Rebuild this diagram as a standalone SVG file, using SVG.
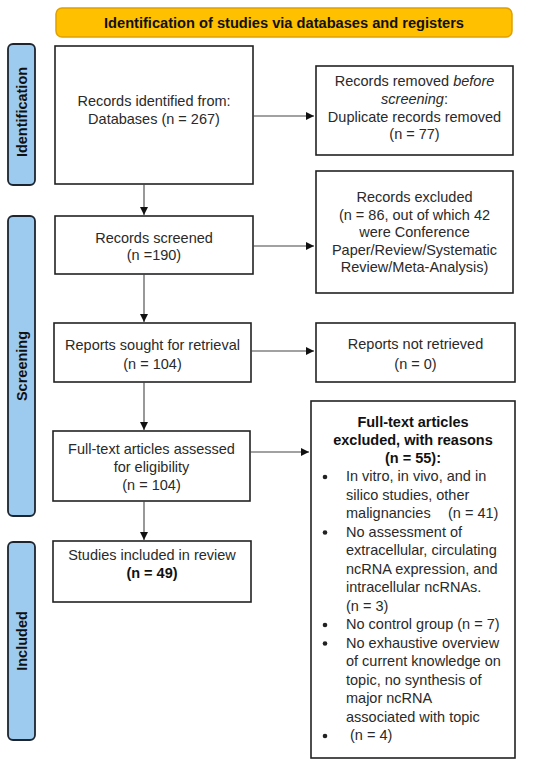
<svg xmlns="http://www.w3.org/2000/svg" width="550" height="765" viewBox="0 0 550 765">
<defs>
<marker id="ah" viewBox="0 0 10 10" refX="10" refY="5" markerWidth="8" markerHeight="8" markerUnits="userSpaceOnUse" orient="auto">
<path d="M0,0 L10,5 L0,10 z" fill="#111"/>
</marker>
<style>
.box{fill:#fff;stroke:#222;stroke-width:1.6}
.side{fill:#9DCBF0;stroke:#1c2530;stroke-width:1.8}
.t{font-family:"Liberation Sans",Arial,sans-serif;font-size:14.5px;fill:#2a2a2a;text-anchor:middle}
.tl{font-family:"Liberation Sans",Arial,sans-serif;font-size:14.5px;fill:#2a2a2a}
.b{font-weight:bold;fill:#111}
.st{font-family:"Liberation Sans",Arial,sans-serif;font-size:14.5px;font-weight:bold;fill:#111;text-anchor:middle}
.c{stroke:#444;stroke-width:1.1;fill:none;marker-end:url(#ah)}
.dot{fill:#222}
</style>
</defs>
<g id="banner">
<rect x="56" y="8" width="456" height="29" rx="6" fill="#FFC000" stroke="#E0A000" stroke-width="1.5"/>
<text class="st" x="284" y="27.5" textLength="360" lengthAdjust="spacingAndGlyphs">Identification of studies via databases and registers</text>
</g>
<g id="side-identification">
<rect class="side" x="8" y="44" width="27" height="141" rx="5"/>
<text class="st" transform="translate(26.5,112) rotate(-90)">Identification</text>
</g>
<g id="side-screening">
<rect class="side" x="8" y="216" width="27" height="300" rx="5"/>
<text class="st" transform="translate(26.5,366) rotate(-90)">Screening</text>
</g>
<g id="side-included">
<rect class="side" x="8" y="542" width="27" height="198" rx="5"/>
<text class="st" transform="translate(26.5,641) rotate(-90)">Included</text>
</g>
<g id="n-identified">
<rect class="box" x="55" y="46" width="198" height="138"/>
<text class="t" x="154" y="106">Records identified from:</text>
<text class="t" x="154" y="124">Databases (n = 267)</text>
</g>
<g id="n-removed">
<rect class="box" x="316" y="66" width="197" height="89"/>
<text class="t" x="414.5" y="86">Records removed <tspan font-style="italic">before</tspan></text>
<text class="t" x="414.5" y="104"><tspan font-style="italic">screening</tspan>:</text>
<text class="t" x="414.5" y="121.5">Duplicate records removed</text>
<text class="t" x="414.5" y="139">(n = 77)</text>
</g>
<g id="n-screened">
<rect class="box" x="55" y="216" width="198" height="58"/>
<text class="t" x="154" y="243">Records screened</text>
<text class="t" x="154" y="260">(n =190)</text>
</g>
<g id="n-excluded">
<rect class="box" x="316" y="171" width="197" height="122"/>
<text class="t" x="414.5" y="202">Records excluded</text>
<text class="t" x="414.5" y="219.5">(n = 86, out of which 42</text>
<text class="t" x="414.5" y="237">were Conference</text>
<text class="t" x="414.5" y="254.5">Paper/Review/Systematic</text>
<text class="t" x="414.5" y="272">Review/Meta-Analysis)</text>
</g>
<g id="n-sought">
<rect class="box" x="54" y="323" width="197" height="59"/>
<text class="t" x="152.5" y="350">Reports sought for retrieval</text>
<text class="t" x="152.5" y="369">(n = 104)</text>
</g>
<g id="n-notretrieved">
<rect class="box" x="316" y="323" width="199" height="59"/>
<text class="t" x="415.5" y="349">Reports not retrieved</text>
<text class="t" x="415.5" y="369">(n = 0)</text>
</g>
<g id="n-assessed">
<rect class="box" x="53" y="431" width="197" height="70"/>
<text class="t" x="151.5" y="454">Full-text articles assessed</text>
<text class="t" x="151.5" y="472">for eligibility</text>
<text class="t" x="151.5" y="489.5">(n = 104)</text>
</g>
<g id="n-fulltext-excluded">
<rect class="box" x="311" y="401" width="204" height="357"/>
<text class="t b" x="413" y="427">Full-text articles</text>
<text class="t b" x="413" y="445">excluded, with reasons</text>
<text class="t b" x="413" y="462.5">(n = 55):</text>
<circle class="dot" cx="325" cy="477" r="2.3"/>
<circle class="dot" cx="325" cy="532.5" r="2.3"/>
<circle class="dot" cx="325" cy="625" r="2.3"/>
<circle class="dot" cx="325" cy="643.5" r="2.3"/>
<circle class="dot" cx="325" cy="736" r="2.3"/>
<text class="tl" x="346" y="481">In vitro, in vivo, and in</text>
<text class="tl" x="346" y="499.5">silico studies, other</text>
<text class="tl" x="346" y="518">malignancies<tspan x="448">(n = 41)</tspan></text>
<text class="tl" x="346" y="536.5">No assessment of</text>
<text class="tl" x="346" y="555">extracellular, circulating</text>
<text class="tl" x="346" y="573.5">ncRNA expression, and</text>
<text class="tl" x="346" y="592">intracellular ncRNAs.</text>
<text class="tl" x="346" y="610.5">(n = 3)</text>
<text class="tl" x="346" y="629">No control group (n = 7)</text>
<text class="tl" x="346" y="647.5">No exhaustive overview</text>
<text class="tl" x="346" y="666">of current knowledge on</text>
<text class="tl" x="346" y="684.5">topic, no synthesis of</text>
<text class="tl" x="346" y="703">major ncRNA</text>
<text class="tl" x="346" y="721.5">associated with topic</text>
<text class="tl" x="350" y="740">(n = 4)</text>
</g>
<g id="n-included">
<rect class="box" x="53" y="541" width="198" height="61"/>
<text class="t" x="152" y="560">Studies included in review</text>
<text class="t b" x="152" y="578">(n = 49)</text>
</g>
<g id="connectors">
<line class="c" x1="253" y1="116" x2="314" y2="116"/>
<line class="c" x1="144" y1="184" x2="144" y2="215"/>
<line class="c" x1="253" y1="246" x2="314" y2="246"/>
<line class="c" x1="144" y1="274" x2="144" y2="322"/>
<line class="c" x1="251" y1="351" x2="314" y2="351"/>
<line class="c" x1="144" y1="382" x2="144" y2="430"/>
<line class="c" x1="250" y1="452" x2="309" y2="452"/>
<line class="c" x1="144" y1="501" x2="144" y2="540"/>
</g>
</svg>
